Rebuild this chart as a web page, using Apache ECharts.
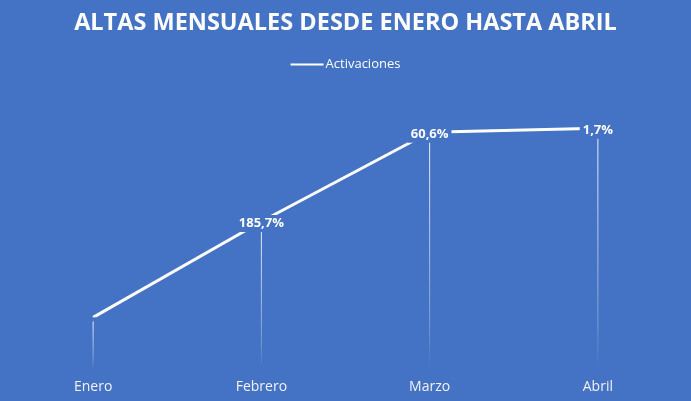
<!DOCTYPE html>
<html>
<head>
<meta charset="utf-8">
<script src="https://cdn.jsdelivr.net/npm/echarts@6/dist/echarts.min.js"></script>
<style>html,body{margin:0;padding:0;background:#4472C4;}#c{width:691px;height:401px;}</style>
</head>
<body>
<div id="c"></div>
<script>
const categories = ['Enero', 'Febrero', 'Marzo', 'Abril'];
const activaciones = [7, 20, 32.1, 32.65];
const growthLabels = ['', '185,7%', '60,6%', '1,7%'];
const titleText = 'ALTAS MENSUALES DESDE ENERO HASTA ABRIL';
const seriesName = 'Activaciones';

const BG = '#4472C4';
const chart = echarts.init(document.getElementById('c'));
chart.setOption({
  backgroundColor: BG,
  animation: false,
  title: {
    text: titleText,
    left: 'center',
    top: 6,
    textStyle: { color: '#fff', fontFamily: 'Open Sans', fontWeight: 'bold', fontSize: 23.5 }
  },
  legend: {
    data: [seriesName],
    top: 53,
    left: 'center',
    itemWidth: 33,
    itemHeight: 14,
    itemGap: 10,
    icon: 'path://M0,6 L33,6 L33,8 L0,8 Z',
    textStyle: { color: '#fff', fontFamily: 'Open Sans', fontSize: 13, padding: [0, 0, 0, -3] },
    itemStyle: { color: '#fff' },
    lineStyle: { color: '#fff', width: 3 }
  },
  grid: { left: 9, right: 9, top: 74, bottom: 32 },
  xAxis: {
    type: 'category',
    data: categories,
    boundaryGap: true,
    axisLine: { show: false },
    axisTick: { show: false },
    axisLabel: { color: '#f2f2f2', fontFamily: 'Open Sans', fontSize: 14, margin: 11 }
  },
  yAxis: {
    type: 'value',
    min: 0,
    max: 40,
    show: false,
    splitLine: { show: false }
  },
  series: [
    {
      name: 'drop',
      type: 'bar',
      data: activaciones,
      barWidth: 1,
      z: 1,
      silent: true,
      itemStyle: {
        color: new echarts.graphic.LinearGradient(0, 0, 0, 1, [
          { offset: 0, color: 'rgba(255,255,255,0.95)' },
          { offset: 0.8, color: 'rgba(255,255,255,0.3)' },
          { offset: 1, color: 'rgba(255,255,255,0)' }
        ])
      }
    },
    {
      name: seriesName,
      type: 'line',
      data: activaciones,
      z: 3,
      symbol: 'circle',
      symbolSize: 0,
      showSymbol: true,
      lineStyle: { color: '#fff', width: 3 },
      itemStyle: { color: '#fff' },
      label: {
        show: true,
        position: 'inside',
        offset: [0, 2],
        formatter: p => growthLabels[p.dataIndex],
        color: '#fff',
        fontFamily: 'Open Sans',
        fontWeight: 'bold',
        fontSize: 13,
        backgroundColor: BG,
        padding: [2, 3, 2, 3]
      }
    }
  ]
});
</script>
</body>
</html>
